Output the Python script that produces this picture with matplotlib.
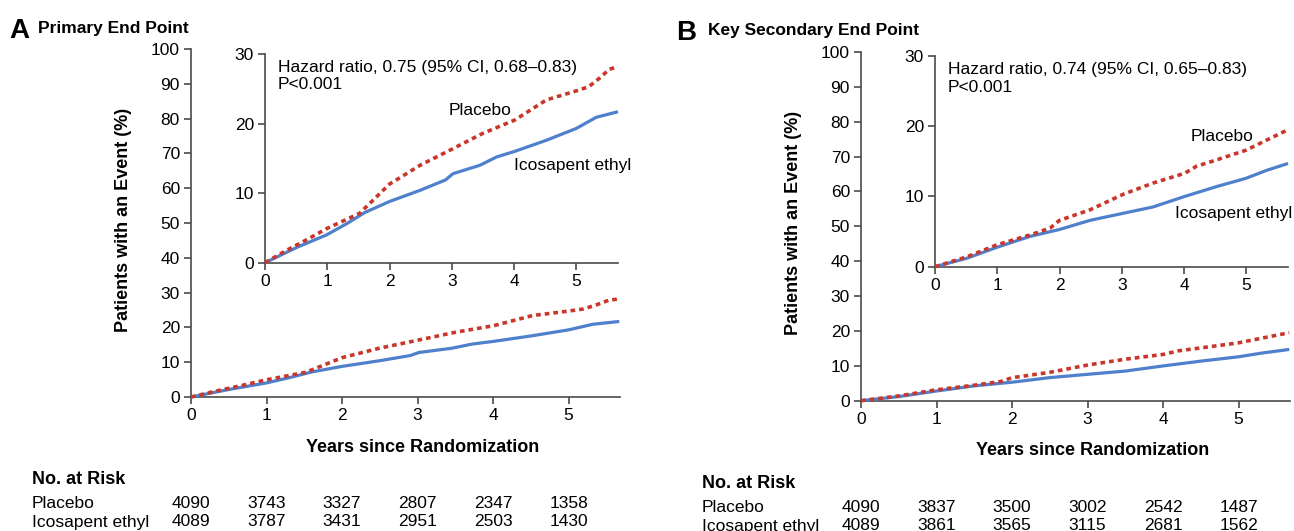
import matplotlib
matplotlib.use('Agg')
from matplotlib import pyplot as plt
from matplotlib.transforms import blended_transform_factory

plt.rcParams['font.family'] = ['Liberation Sans', 'DejaVu Sans']

# panel A, primary end point (cumulative incidence, %)
placeboTimeA = [0, 0.35, 0.67, 0.99, 1.52, 2.0, 2.49, 3.02, 3.5, 4.01, 4.52, 5.0, 5.2, 5.37, 5.53, 5.67]
placeboEventA = [0, 1.8, 3.3, 4.9, 7.1, 11.3, 14.0, 16.4, 18.6, 20.5, 23.4, 24.7, 25.3, 26.5, 27.8, 28.2]
icosaTimeA = [0, 0.51, 0.99, 1.31, 1.6, 2.0, 2.49, 2.9, 3.02, 3.45, 3.72, 4.01, 4.52, 5.0, 5.32, 5.67]
icosaEventA = [0, 2.2, 4.0, 5.6, 7.2, 8.8, 10.4, 11.9, 12.8, 14.0, 15.2, 16.0, 17.6, 19.3, 20.9, 21.7]

# panel B, key secondary end point
placeboTimeB = [0, 0.51, 0.99, 1.52, 1.85, 2.0, 2.49, 3.02, 3.5, 4.01, 4.2, 4.52, 5.0, 5.32, 5.67]
placeboEventB = [0, 1.4, 3.1, 4.5, 5.5, 6.6, 8.1, 10.3, 11.9, 13.3, 14.3, 15.2, 16.6, 18.0, 19.5]
icosaTimeB = [0, 0.51, 0.99, 1.52, 2.0, 2.49, 3.02, 3.5, 4.01, 4.52, 5.0, 5.32, 5.67]
icosaEventB = [0, 1.2, 2.75, 4.3, 5.3, 6.6, 7.6, 8.5, 10.0, 11.4, 12.6, 13.7, 14.7]

riskYears = [0, 1, 2, 3, 4, 5]
placeboRiskA = [4090, 3743, 3327, 2807, 2347, 1358]
icosaRiskA = [4089, 3787, 3431, 2951, 2503, 1430]
placeboRiskB = [4090, 3837, 3500, 3002, 2542, 1487]
icosaRiskB = [4089, 3861, 3565, 3115, 2681, 1562]

RED = '#c9372c'
BLUE = '#4f80cc'
SPINE = '#4a4a4a'
W, H = 1294.0, 531.0


def px( left, top, right, bottom ):
    return [ left / W, 1 - bottom / H, ( right - left ) / W, ( bottom - top ) / H ]


def styleAxes( axes, xmax, ymax, yticks ):
    axes.set_xlim( 0, xmax )
    axes.set_ylim( 0, ymax )
    axes.set_xticks( riskYears )
    axes.set_yticks( yticks )
    for side in [ 'top', 'right' ]:
        axes.spines[ side ].set_visible( False )
    for side in [ 'left', 'bottom' ]:
        axes.spines[ side ].set_color( SPINE )
        axes.spines[ side ].set_linewidth( 1.2 )
    axes.tick_params( direction='out', length=5, width=1.2, color=SPINE, labelsize=12.5, pad=3 )


def curves( axes, placeboT, placeboY, icosaT, icosaY ):
    axes.plot( icosaT, icosaY, color=BLUE, lw=2.3, solid_capstyle='butt', clip_on=False, zorder=3 )
    axes.plot( placeboT, placeboY, color=RED, lw=2.6, linestyle=( 0, ( 1.3, 1.1 ) ),
               dash_capstyle='butt', clip_on=False, zorder=4 )


def panel( figure, mainBox, insetBox, letter, title, letterX, titleX, titleY,
           placeboT, placeboY, icosaT, icosaY, hazard, placeboPos, icosaPos,
           placeboRisk, icosaRisk, tableX, tableY ):
    main = figure.add_axes( px( *mainBox ) )
    styleAxes( main, 5.68, 100, range( 0, 101, 10 ) )
    curves( main, placeboT, placeboY, icosaT, icosaY )
    main.set_xlabel( 'Years since Randomization', fontsize=13, fontweight='bold' )
    main.xaxis.label.set_va( 'center' )
    main.xaxis.set_label_coords( 0.54, -0.144 )
    main.set_ylabel( 'Patients with an Event (%)', fontsize=13, fontweight='bold' )
    main.yaxis.label.set_va( 'center' )
    main.yaxis.set_label_coords( -0.158, 0.51 )

    inset = figure.add_axes( px( *insetBox ) )
    styleAxes( inset, 5.67, 30, [ 0, 10, 20, 30 ] )
    curves( inset, placeboT, placeboY, icosaT, icosaY )
    inset.text( 0.21, 26.8, hazard + '\nP<0.001', fontsize=12.5, va='center', ha='left', linespacing=1.2 )
    inset.text( placeboPos[ 0 ], placeboPos[ 1 ], 'Placebo', fontsize=12.5, va='center', ha='left' )
    inset.text( icosaPos[ 0 ], icosaPos[ 1 ], 'Icosapent ethyl', fontsize=12.5, va='center', ha='left' )

    figure.text( letterX / W, 1 - titleY / H, letter, fontsize=20, fontweight='bold', va='baseline' )
    figure.text( titleX / W, 1 - ( titleY - 5 ) / H, title, fontsize=12.5, fontweight='bold', va='baseline' )

    # risk table
    figure.text( tableX / W, 1 - tableY / H, 'No. at Risk', fontsize=13, fontweight='bold', va='center' )
    figure.text( tableX / W, 1 - ( tableY + 23 ) / H, 'Placebo', fontsize=12.5, va='center' )
    figure.text( tableX / W, 1 - ( tableY + 42 ) / H, 'Icosapent ethyl', fontsize=12.5, va='center' )
    blend = blended_transform_factory( main.transData, figure.transFigure )
    for year, p, i in zip( riskYears, placeboRisk, icosaRisk ):
        main.text( year, 1 - ( tableY + 23 ) / H, str( p ), transform=blend, fontsize=12.5, ha='center', va='center' )
        main.text( year, 1 - ( tableY + 42 ) / H, str( i ), transform=blend, fontsize=12.5, ha='center', va='center' )
    return main, inset


figure = plt.figure( figsize=( 12.94, 5.31 ), dpi=100 )

panel( figure, ( 191, 49, 620, 397 ), ( 265, 54, 618, 262.7 ), 'A', 'Primary End Point', 9, 38, 38,
       placeboTimeA, placeboEventA, icosaTimeA, icosaEventA,
       'Hazard ratio, 0.75 (95% CI, 0.68\u20130.83)', ( 2.95, 21.9 ), ( 4.0, 14.0 ),
       placeboRiskA, icosaRiskA, 32, 480 )

panel( figure, ( 861, 52, 1290, 400.7 ), ( 935, 56, 1288, 266.7 ), 'B', 'Key Secondary End Point', 676, 708, 40,
       placeboTimeB, placeboEventB, icosaTimeB, icosaEventB,
       'Hazard ratio, 0.74 (95% CI, 0.65\u20130.83)', ( 4.11, 18.5 ), ( 3.85, 7.6 ),
       placeboRiskB, icosaRiskB, 702, 484 )

figure.savefig( 'out.png', dpi=100 )
